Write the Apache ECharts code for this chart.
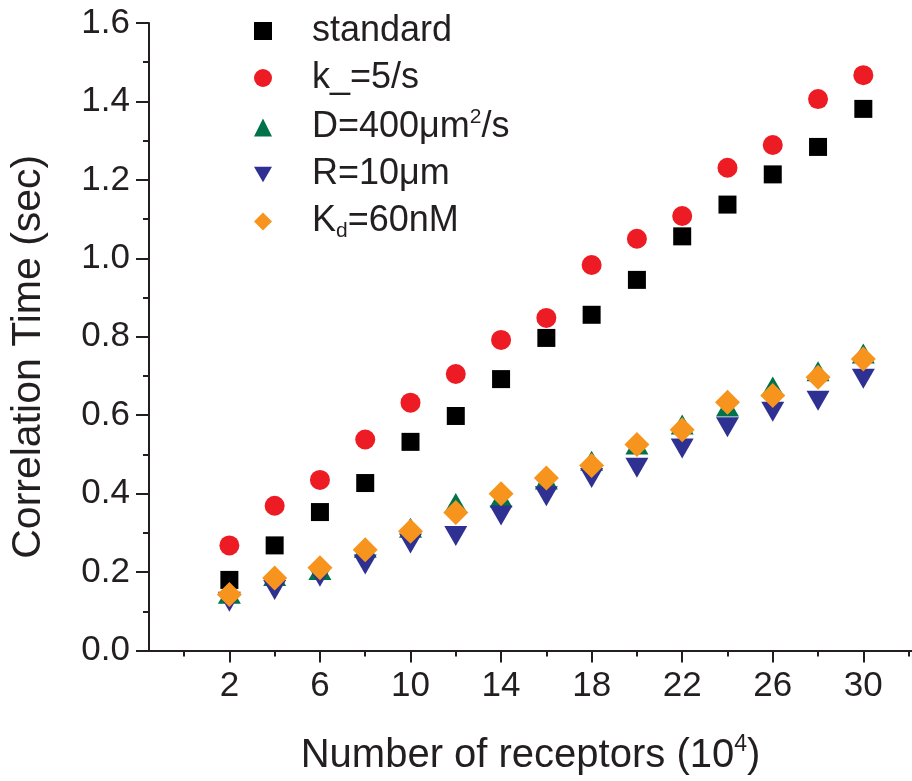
<!DOCTYPE html>
<html>
<head>
<meta charset="utf-8">
<script src="https://cdn.jsdelivr.net/npm/echarts@6/dist/echarts.min.js"></script>
<style>html,body{margin:0;padding:0;background:#fff}#c{width:912px;height:781px}</style>
</head>
<body>
<div id="c"></div>
<script>
var receptors = [2,4,6,8,10,12,14,16,18,20,22,24,26,28,30];
var standard = [0.180,0.268,0.353,0.427,0.532,0.598,0.692,0.797,0.856,0.945,1.056,1.137,1.214,1.284,1.381];
var kMinus  = [0.268,0.369,0.435,0.538,0.632,0.705,0.792,0.848,0.983,1.050,1.108,1.231,1.289,1.406,1.467];
var dHigh   = [0.145,0.190,0.205,0.262,0.313,0.376,0.390,0.436,0.484,0.525,0.576,0.622,0.673,0.712,0.757];
var rSmall  = [0.124,0.154,0.188,0.219,0.273,0.292,0.344,0.393,0.440,0.466,0.515,0.569,0.609,0.637,0.693];
var kdLow   = [0.143,0.185,0.211,0.257,0.304,0.352,0.400,0.440,0.472,0.525,0.563,0.633,0.650,0.697,0.743];
var xMajorTicks = [2,6,10,14,18,22,26,30];
var xMinorTicks = [0,4,8,12,16,20,24,28,32];
var seriesNames = ['standard','k_=5/s','D=400μm2/s','R=10μm','Kd=60nM'];

function pairs(v){ return receptors.map(function(x,i){ return [x, v[i]]; }); }

var txt = '#231f20';
var font = 'Liberation Sans, Arial, sans-serif';
var chart = echarts.init(document.getElementById('c'), null, {renderer:'canvas'});
var invTri = 'path://M0,0L2,0L1,1.74Z';

chart.setOption({
  animation: false,
  backgroundColor: '#fff',
  textStyle: {fontFamily: font, color: txt},
  grid: {left: 147, right: 0, top: 23, bottom: 129, containLabel: false},
  legend: {
    orient: 'vertical', left: 249, top: 8, itemWidth: 18, itemHeight: 18, itemGap: 11,
    data: seriesNames,
    formatter: function(n){
      if (n === 'D=400μm2/s') return '{n|D=400μm}{sup|2}{n|/s}';
      if (n === 'Kd=60nM') return '{n|K}{sub|d}{n|=60nM}';
      return '{n|' + n + '}';
    },
    textStyle: {
      fontFamily: font, color: txt, fontSize: 36, padding: [0,0,0,35],
      rich: {
        n: {fontFamily: font, color: txt, fontSize: 36, lineHeight: 41},
        sup: {fontFamily: font, color: txt, fontSize: 21, lineHeight: 20, verticalAlign: 'top'},
        sub: {fontFamily: font, color: txt, fontSize: 21, lineHeight: 18, verticalAlign: 'bottom'}
      }
    }
  },
  xAxis: [{
    type: 'value', min: -1.55, max: 32.15,
    name: 'Number of receptors (10{sup|4})', nameLocation: 'middle', nameGap: 83,
    nameTextStyle: {fontFamily: font, color: txt, fontSize: 40,
      rich: {sup: {fontFamily: font, color: txt, fontSize: 23, padding: [0,0,22,0]}}},
    axisLine: {show: true, onZero: false, lineStyle: {color: txt, width: 2}},
    axisTick: {show: true, customValues: xMajorTicks, length: 12, lineStyle: {color: txt, width: 2}},
    axisLabel: {show: true, customValues: xMajorTicks, margin: 18, fontSize: 35, color: txt, fontFamily: font},
    splitLine: {show: false}
  }, {
    type: 'value', min: -1.55, max: 32.15, position: 'bottom',
    axisLine: {show: false},
    axisTick: {show: true, customValues: xMinorTicks, length: 6, lineStyle: {color: txt, width: 2}},
    axisLabel: {show: false},
    splitLine: {show: false}
  }],
  yAxis: {
    type: 'value', min: 0, max: 1.6, interval: 0.2,
    name: 'Correlation Time (sec)', nameLocation: 'middle', nameGap: 100,
    nameTextStyle: {fontFamily: font, color: txt, fontSize: 41, padding: [0,40,0,0]},
    axisLine: {show: true, onZero: false, lineStyle: {color: txt, width: 2}},
    axisTick: {show: true, length: 13, lineStyle: {color: txt, width: 2}},
    minorTick: {show: true, splitNumber: 2, length: 6, lineStyle: {color: txt, width: 2}},
    axisLabel: {margin: 19, fontSize: 35, color: txt, fontFamily: font,
      formatter: function(v){ return v.toFixed(1); }},
    splitLine: {show: false}
  },
  series: [
    {name: seriesNames[0], type: 'scatter', data: pairs(standard), symbol: 'rect', symbolSize: 18,
     itemStyle: {color: '#000000', opacity: 1}},
    {name: seriesNames[1], type: 'scatter', data: pairs(kMinus), symbol: 'circle', symbolSize: 20,
     itemStyle: {color: '#ed1c24', opacity: 1}},
    {name: seriesNames[2], type: 'scatter', data: pairs(dHigh), symbol: 'triangle', symbolSize: [23,20],
     itemStyle: {color: '#00734a', opacity: 1}},
    {name: seriesNames[3], type: 'scatter', data: pairs(rSmall), symbol: invTri, symbolSize: [23,20],
     itemStyle: {color: '#2e3192', opacity: 1}},
    {name: seriesNames[4], type: 'scatter', data: pairs(kdLow), symbol: 'diamond', symbolSize: 25,
     itemStyle: {color: '#f7941d', opacity: 1}}
  ]
});
</script>
</body>
</html>
